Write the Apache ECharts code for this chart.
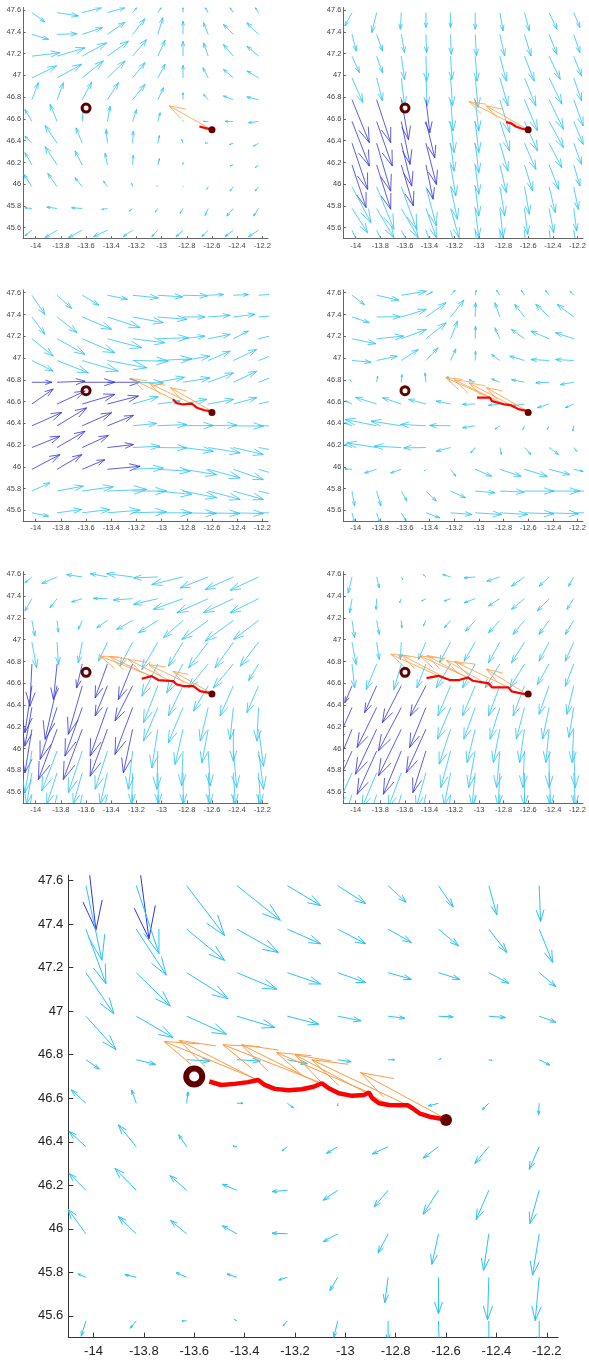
<!DOCTYPE html>
<html>
<head>
<meta charset="utf-8">
<title>wind field panels</title>
<script src="https://cdn.jsdelivr.net/npm/echarts@6/dist/echarts.min.js"></script>
<style>
  html, body { margin: 0; padding: 0; background: #fff; }
  #main { width: 589px; height: 1360px; }
</style>
</head>
<body>
<div id="main"></div>
<script>
// field grid (deg) and axis ticks
var LONS = [-14.03, -13.83, -13.63, -13.43, -13.23, -13.03, -12.83, -12.63, -12.43, -12.23];
var X_TICKS = [-14, -13.8, -13.6, -13.4, -13.2, -13, -12.8, -12.6, -12.4, -12.2];
var Y_TICKS = [45.6, 45.8, 46, 46.2, 46.4, 46.6, 46.8, 47, 47.2, 47.4, 47.6];
var RING = [-13.6, 46.7];
var END_POINT = [-12.6, 46.5];

// vector components, rows from north to south, [u, v] per column
var FIELD_1 = [
  [[39,-28],[64,-10],[58,15],[53,15],[12,15],[10,15],[0,15],[-9,15],[-10,15],[-10,15]],
  [[50,-15],[60,2],[60,20],[53,37],[37,47],[15,50],[0,40],[-14,35],[-30,30],[-35,35]],
  [[84,10],[84,25],[73,40],[63,45],[42,50],[22,48],[0,45],[-14,40],[-30,35],[-35,30]],
  [[74,36],[74,41],[63,51],[53,51],[37,46],[22,41],[0,38],[-16,31],[-30,26],[-35,21]],
  [[19,51],[19,51],[28,53],[33,51],[37,46],[17,36],[0,21],[-14,16],[-30,11],[-35,8]],
  [[-21,36],[-21,51],[3,46],[8,46],[12,36],[7,26],[0,3],[-14,0],[-25,0],[-30,-4]],
  [[-21,21],[-36,53],[-19,46],[-4,41],[2,36],[5,23],[-4,11],[-9,1],[-12,-4],[-15,-9]],
  [[-21,37],[-36,55],[-22,42],[-7,35],[2,29],[5,19],[0,7],[0,0],[-10,-3],[-10,-8]],
  [[-24,37],[-28,40],[-22,27],[-12,17],[-3,10],[-3,3],[0,2],[-4,-8],[-10,-13],[-10,-13]],
  [[-21,2],[-31,4],[-32,2],[-17,-3],[-10,-8],[-8,-11],[-9,-15],[-9,-21],[-20,-23],[-15,-23]],
  [[-21,-17],[-36,-22],[-42,-22],[-42,-19],[-28,-19],[-18,-19],[-21,-19],[-19,-19],[-25,-19],[-30,-19]]
];
var FIELD_2 = [
  [[-22,-40],[-15,-60],[-3,-50],[0,-45],[0,-45],[0,-50],[10,-55],[15,-55],[24,-50],[19,-45]],
  [[13,-50],[18,-50],[10,-55],[2,-55],[2,-60],[4,-65],[15,-65],[20,-65],[24,-60],[19,-55]],
  [[23,-50],[18,-50],[10,-70],[2,-75],[4,-70],[6,-75],[20,-75],[30,-75],[34,-70],[24,-60]],
  [[33,-74],[18,-69],[10,-84],[4,-84],[6,-84],[9,-89],[25,-84],[35,-84],[39,-79],[24,-69]],
  [[53,-129],[43,-129],[22,-120],[12,-99],[8,-94],[11,-94],[30,-99],[40,-94],[44,-89],[29,-79]],
  [[53,-134],[48,-134],[27,-129],[27,-109],[11,-94],[11,-94],[30,-89],[40,-89],[44,-79],[29,-69]],
  [[48,-139],[43,-144],[32,-129],[32,-124],[11,-84],[11,-89],[25,-84],[35,-79],[39,-74],[24,-64]],
  [[43,-128],[43,-133],[37,-123],[22,-103],[16,-93],[11,-88],[20,-83],[25,-78],[29,-73],[19,-63]],
  [[58,-108],[53,-128],[47,-128],[32,-118],[21,-98],[11,-88],[15,-88],[15,-83],[19,-78],[14,-68]],
  [[48,-73],[53,-88],[52,-88],[32,-88],[26,-88],[11,-88],[10,-88],[10,-78],[14,-73],[9,-68]],
  [[28,-60],[40,-80],[45,-80],[30,-80],[20,-80],[10,-80],[5,-80],[5,-70],[10,-70],[10,-60]]
];
var FIELD_3 = [
  [[39,-58],[44,-40],[50,-30],[60,-12],[77,-8],[75,-5],[74,-2],[46,2],[45,2],[45,3]],
  [[39,-52],[60,-47],[88,-37],[98,-32],[92,-17],[87,-7],[66,0],[66,5],[65,8],[60,5]],
  [[64,-52],[84,-47],[98,-42],[103,-27],[97,-12],[92,3],[66,8],[66,13],[45,23],[55,13]],
  [[64,-32],[94,-37],[108,-32],[118,-22],[107,-2],[102,5],[81,13],[66,28],[70,33],[65,25]],
  [[60,0],[84,3],[98,0],[98,0],[92,-2],[80,15],[81,13],[76,28],[70,33],[65,25]],
  [[64,45],[84,39],[98,29],[93,24],[77,22],[67,9],[71,14],[76,14],[70,19],[65,15]],
  [[90,40],[89,54],[88,39],[78,31],[72,7],[87,4],[91,1],[86,2],[90,-1],[85,0]],
  [[84,34],[84,49],[78,36],[78,9],[82,4],[87,-1],[91,-11],[96,-16],[90,-21],[85,-15]],
  [[84,44],[74,44],[68,29],[98,9],[92,4],[97,-6],[101,-16],[96,-26],[90,-31],[85,-25]],
  [[54,25],[79,15],[93,13],[118,5],[102,0],[102,-10],[101,-20],[96,-25],[90,-25],[85,-20]],
  [[50,-10],[74,10],[83,10],[98,8],[102,3],[102,0],[100,-2],[95,-2],[90,-2],[85,0]]
];
var FIELD_4 = [
  [[38,-28],[68,-15],[77,12],[20,10],[14,15],[3,15],[-10,15],[-10,15],[-11,15],[-11,12]],
  [[53,-17],[73,1],[77,23],[62,43],[41,51],[1,43],[-15,43],[-30,38],[-41,38],[-51,38]],
  [[73,-15],[83,8],[77,28],[62,48],[21,53],[1,38],[-15,33],[-40,28],[-56,23],[-56,18]],
  [[58,-5],[63,13],[52,33],[37,38],[16,35],[1,28],[-25,18],[-45,13],[-56,3],[-56,3]],
  [[-7,8],[3,18],[2,23],[-3,28],[-9,18],[-19,8],[-25,10],[-40,8],[-41,-2],[-41,-7]],
  [[-20,9],[-65,20],[-58,19],[-53,14],[-44,9],[-39,-1],[-35,-4],[-40,-6],[-36,-11],[-26,-11]],
  [[-22,9],[-97,19],[-93,14],[-78,4],[-64,1],[-39,-6],[-15,-10],[-5,-11],[-6,-11],[-3,-16]],
  [[-22,9],[-92,14],[-83,4],[-68,-1],[-44,-11],[-14,-16],[5,-21],[20,-21],[29,-21],[9,-11]],
  [[-22,1],[-37,-11],[-33,-11],[-5,-5],[16,-21],[51,-21],[65,-21],[70,-21],[64,-16],[29,-6]],
  [[8,-45],[13,-45],[17,-30],[32,-30],[46,-20],[61,-5],[75,-3],[90,0],[94,0],[60,0]],
  [[8,-30],[10,-30],[15,-25],[42,-15],[66,-5],[81,-5],[85,-5],[90,-3],[90,-3],[60,0]]
];
var FIELD_5 = [
  [[-21,-18],[-46,-20],[-47,7],[-52,10],[-78,10],[-73,-3],[-94,-23],[-84,-33],[-85,-38],[-85,-40]],
  [[-21,-37],[-21,-27],[-32,-10],[-42,1],[-58,-4],[-73,-17],[-89,-32],[-94,-42],[-90,-42],[-85,-42]],
  [[9,-47],[4,-35],[-12,-27],[-32,-22],[-48,-27],[-58,-37],[-59,-52],[-79,-57],[-85,-62],[-75,-57]],
  [[14,-77],[4,-67],[-12,-62],[-27,-57],[-38,-72],[-48,-82],[-44,-72],[-59,-77],[-55,-77],[-55,-72]],
  [[-6,-127],[-11,-107],[-17,-72],[-37,-102],[-43,-107],[-48,-97],[-49,-87],[-59,-72],[-60,-72],[-30,-50]],
  [[-21,-141],[-36,-161],[-42,-146],[-37,-91],[-53,-106],[-43,-111],[-44,-91],[-44,-76],[-40,-91],[-35,-81]],
  [[-21,-116],[-51,-156],[-52,-146],[-52,-146],[-53,-141],[-43,-101],[-44,-106],[-24,-101],[-10,-96],[-5,-101]],
  [[-21,-131],[-56,-151],[-57,-151],[-52,-141],[-28,-131],[-18,-116],[-24,-106],[-19,-101],[0,-96],[15,-111]],
  [[-21,-125],[-46,-120],[-42,-125],[-37,-115],[-13,-115],[-3,-115],[-4,-105],[6,-105],[10,-110],[15,-115]],
  [[-16,-95],[-31,-95],[-27,-95],[-22,-95],[-3,-95],[2,-95],[1,-95],[6,-95],[6,-95],[6,-95]],
  [[-15,-90],[-20,-90],[-20,-90],[-20,-90],[-5,-90],[0,-90],[0,-90],[0,-90],[0,-90],[0,-90]]
];
var FIELD_6 = [
  [[-12,-48],[8,-33],[5,-8],[-8,7],[-24,7],[-34,-3],[-40,-13],[-40,-28],[-31,-28],[-16,-28]],
  [[-7,-42],[-2,-32],[-5,-12],[-13,-7],[-19,-7],[-34,-12],[-35,-22],[-40,-32],[-36,-37],[-21,-32]],
  [[8,-52],[8,-42],[2,-22],[-8,-17],[-19,-22],[-29,-32],[-35,-37],[-35,-42],[-31,-42],[-26,-42]],
  [[13,-67],[8,-52],[-3,-52],[-23,-52],[-34,-62],[-34,-57],[-35,-62],[-40,-62],[-31,-57],[-26,-57]],
  [[8,-72],[-32,-77],[-23,-77],[-28,-72],[-44,-72],[-39,-72],[-45,-72],[-45,-72],[-36,-62],[-26,-67]],
  [[-22,-51],[-37,-81],[-58,-111],[-48,-91],[-39,-91],[-39,-91],[-35,-91],[-35,-91],[-31,-86],[-21,-86]],
  [[-50,-110],[-60,-120],[-70,-130],[-50,-120],[-40,-95],[-35,-95],[-30,-95],[-25,-95],[-20,-95],[-15,-90]],
  [[-55,-130],[-65,-135],[-70,-140],[-60,-130],[-35,-105],[-25,-100],[-20,-100],[-15,-100],[-10,-100],[-5,-100]],
  [[-55,-120],[-60,-130],[-55,-130],[-40,-125],[-30,-110],[-20,-110],[-10,-110],[-5,-110],[0,-110],[5,-110]],
  [[-45,-100],[-45,-105],[-40,-105],[-30,-105],[-20,-100],[-10,-100],[-5,-100],[0,-100],[5,-100],[5,-100]],
  [[-30,-90],[-30,-90],[-25,-90],[-20,-90],[-10,-90],[-5,-90],[0,-90],[0,-90],[0,-90],[0,-90]]
];
// big panel starts one row further north (47.78)
var FIELD_BIG = [
  [[15,-132],[19,-145],[0,0],[0,0],[0,0],[0,0],[0,0],[0,0],[0,0],[0,0]],
  [[24,-112],[34,-102],[57,-75],[65,-52],[50,-30],[42,-27],[27,-25],[22,-32],[12,-44],[2,-54]],
  [[30,-82],[45,-69],[57,-47],[62,-35],[50,-22],[42,-22],[35,-20],[30,-25],[27,-35],[20,-50]],
  [[42,-62],[51,-50],[62,-39],[60,-25],[50,-17],[42,-15],[35,-10],[32,-10],[30,-16],[25,-21]],
  [[45,-50],[55,-32],[60,-27],[57,-17],[47,-12],[35,-7],[25,-3],[22,-1],[25,-2],[25,-9]],
  [[20,-14],[29,-7],[35,-2],[35,-2],[30,-6],[20,-3],[10,0],[4,2],[5,-1],[16,-8]],
  [[-22,20],[-7,20],[2,17],[9,0],[9,-7],[0,-4],[-5,-2],[-15,-4],[-10,-10],[-1,-17]],
  [[-25,23],[-27,33],[-12,18],[-6,1],[-8,-6],[-17,-10],[-24,-11],[-23,-17],[-21,-25],[-15,-34]],
  [[-25,25],[-32,33],[-25,22],[-22,9],[-23,-2],[-22,-15],[-21,-25],[-23,-36],[-19,-44],[-14,-50]],
  [[-27,37],[-27,26],[-24,20],[-22,12],[-23,1],[-22,-12],[-15,-29],[-10,-46],[-8,-55],[-10,-62]],
  [[-12,5],[-17,4],[-16,7],[-15,5],[-13,-4],[-12,-20],[-5,-38],[0,-55],[-2,-64],[-6,-65]],
  [[-7,-23],[-9,-11],[-7,0],[-4,2],[-6,-7],[-6,-25],[0,-30],[1,-35],[0,-35],[0,-35]]
];

// cells drawn in dark blue: [rowFrom, rowTo, colFrom, colTo]
var BLUE_2 = [4, 7, 0, 3];
var BLUE_3 = [4, 8, 0, 3];
var BLUE_5 = [4, 7, 0, 4];
var BLUE_6 = [5, 8, 0, 3];
var BLUE_BIG = [0, 0, 0, 1];

// drifter tracks [lon, lat]
var TRACK_1 = [[-12.70,46.53],[-12.65,46.515],[-12.6,46.5]];
var TRACK_2 = [[-12.78,46.57],[-12.74,46.56],[-12.70,46.53],[-12.65,46.51],[-12.6,46.5]];
var TRACK_3 = [[-12.91,46.62],[-12.88,46.585],[-12.83,46.573],[-12.76,46.58],[-12.72,46.543],[-12.66,46.52],[-12.60,46.51]];
var TRACK_4 = [[-13.015,46.635],[-12.91,46.635],[-12.894,46.604],[-12.79,46.573],[-12.735,46.564],[-12.68,46.53],[-12.604,46.512]];
var TRACK_5 = [[-13.158,46.641],[-13.079,46.665],[-13.026,46.629],[-12.907,46.62],[-12.88,46.589],[-12.828,46.574],[-12.748,46.574],[-12.695,46.527],[-12.602,46.506]];
var TRACK_6 = [[-13.425,46.647],[-13.33,46.668],[-13.237,46.629],[-13.16,46.629],[-13.09,46.653],[-13.05,46.623],[-12.92,46.598],[-12.894,46.562],[-12.76,46.562],[-12.735,46.525],[-12.604,46.494]];
var TRACK_BIG = [[-13.54,46.677],[-13.493,46.661],[-13.44,46.666],[-13.386,46.674],[-13.346,46.684],[-13.32,46.661],[-13.28,46.643],[-13.226,46.637],[-13.173,46.641],[-13.126,46.653],[-13.093,46.669],[-13.066,46.646],[-13.026,46.623],[-12.973,46.611],[-12.926,46.615],[-12.906,46.626],[-12.893,46.6],[-12.866,46.577],[-12.826,46.569],[-12.786,46.568],[-12.753,46.568],[-12.733,46.554],[-12.706,46.531],[-12.666,46.515],[-12.62,46.506],[-12.6,46.505]];

// wind arrows along the track [tailLon, tailLat, tipLon, tipLat]
var WIND_1 = [[-12.6,46.5,-12.94,46.72]];
var WIND_2 = [[-12.72,46.55,-13.08,46.76],[-12.6,46.5,-12.94,46.72]];
var WIND_3 = [[-12.907,46.62,-13.24,46.81],[-12.76,46.58,-13.1,46.77],[-12.6,46.51,-12.93,46.727]];
var WIND_4 = [[-12.91,46.635,-13.27,46.82],[-12.79,46.573,-13.2,46.8],[-12.735,46.564,-13.08,46.77],[-12.604,46.512,-12.94,46.727]];
var WIND_5 = [[-13.079,46.665,-13.49,46.85],[-13.026,46.629,-13.41,46.845],[-12.88,46.589,-13.265,46.82],[-12.748,46.574,-13.1,46.77],[-12.602,46.506,-12.91,46.71]];
var WIND_6 = [[-13.33,46.668,-13.716,46.867],[-13.237,46.629,-13.63,46.86],[-13.09,46.653,-13.478,46.85],[-13.05,46.623,-13.42,46.855],[-12.894,46.562,-13.265,46.81],[-12.76,46.562,-13.2,46.8],[-12.604,46.494,-12.94,46.73]];
var WIND_BIG = [[-13.346,46.684,-13.72,46.861],[-13.28,46.643,-13.66,46.866],[-13.093,46.669,-13.486,46.846],[-13.026,46.623,-13.413,46.846],[-12.906,46.626,-13.273,46.81],[-12.826,46.569,-13.2,46.8],[-12.753,46.568,-13.133,46.777],[-12.6,46.505,-12.94,46.718]];

var X_MIN = -14.1, X_MAX = -12.155, Y_MIN = 45.5, Y_MAX = 47.625;
// vector units -> degrees (grid step 0.2 deg = 75.5 units in x, 65.3 in y)
var SX = 0.2 / 75.5, SY = 0.2 / 65.3;

var panels = [
  {field: FIELD_1, lat0: 47.577, blue: null,     track: TRACK_1, wind: WIND_1, left: 23.1,  top: 7.4},
  {field: FIELD_2, lat0: 47.577, blue: BLUE_2,   track: TRACK_2, wind: WIND_2, left: 343.4, top: 7.4},
  {field: FIELD_3, lat0: 47.577, blue: BLUE_3,   track: TRACK_3, wind: WIND_3, left: 23.1,  top: 290},
  {field: FIELD_4, lat0: 47.577, blue: null,     track: TRACK_4, wind: WIND_4, left: 343.4, top: 290},
  {field: FIELD_5, lat0: 47.577, blue: BLUE_5,   track: TRACK_5, wind: WIND_5, left: 23.1,  top: 571.7},
  {field: FIELD_6, lat0: 47.577, blue: BLUE_6,   track: TRACK_6, wind: WIND_6, left: 343.4, top: 571.7},
  {field: FIELD_BIG, lat0: 47.777, blue: BLUE_BIG, track: TRACK_BIG, wind: WIND_BIG, left: 68.3, top: 875.2, big: true}
];

function headPoints(p0, p1) {
  // matlab quiver style head: alpha 0.33, beta 0.33
  var dx = p1[0] - p0[0], dy = p1[1] - p0[1];
  var a = 0.33, b = 0.33;
  return [
    [p1[0] - a * (dx + b * dy), p1[1] - a * (dy - b * dx)],
    p1,
    [p1[0] - a * (dx - b * dy), p1[1] - a * (dy + b * dx)]
  ];
}

function arrowShape(p0, p1, color, lw) {
  return {
    type: 'group',
    children: [
      {type: 'polyline', shape: {points: [p0, p1]}, style: {stroke: color, lineWidth: lw, fill: null}},
      {type: 'polyline', shape: {points: headPoints(p0, p1)}, style: {stroke: color, lineWidth: lw, fill: null}}
    ]
  };
}

var grids = [], xAxes = [], yAxes = [], series = [];

panels.forEach(function (p, i) {
  var scale = p.big ? 2 : 1;
  grids.push({left: p.left, top: p.top, width: 244.9 * scale, height: 231.2 * scale});
  var axisColor = p.big ? '#333' : '#666';
  var labelStyle = {
    fontSize: p.big ? 13 : 7.5,
    fontFamily: 'Liberation Sans, Arial, sans-serif',
    color: p.big ? '#222' : '#444'
  };
  xAxes.push({
    gridIndex: i, type: 'value', min: X_MIN, max: X_MAX,
    axisLine: {show: true, onZero: false, lineStyle: {color: axisColor, width: 1}},
    axisTick: {show: true, inside: true, length: p.big ? 5 : 2.5, customValues: X_TICKS, lineStyle: {color: axisColor}},
    axisLabel: Object.assign({customValues: X_TICKS, margin: p.big ? 7 : 3,
      formatter: function (v) { return String(+v.toFixed(1)); }}, labelStyle),
    splitLine: {show: false}
  });
  yAxes.push({
    gridIndex: i, type: 'value', min: Y_MIN, max: Y_MAX,
    axisLine: {show: true, onZero: false, lineStyle: {color: axisColor, width: 1}},
    axisTick: {show: true, inside: true, length: p.big ? 5 : 2.5, customValues: Y_TICKS, lineStyle: {color: axisColor}},
    axisLabel: Object.assign({customValues: Y_TICKS, margin: p.big ? 5 : 2,
      formatter: function (v) { return String(+v.toFixed(1)); }}, labelStyle),
    splitLine: {show: false}
  });

  // vector field items: [lon, lat, u, v, blue]
  var items = [];
  p.field.forEach(function (row, r) {
    row.forEach(function (uv, c) {
      var isBlue = p.blue && r >= p.blue[0] && r <= p.blue[1] && c >= p.blue[2] && c <= p.blue[3] ? 1 : 0;
      items.push([LONS[c], +(p.lat0 - 0.2 * r).toFixed(3), uv[0], uv[1], isBlue]);
    });
  });

  var lw = p.big ? 1 : 0.8;
  series.push({
    type: 'custom', xAxisIndex: i, yAxisIndex: i, clip: true, z: 2,
    encode: {x: 0, y: 1},
    data: items,
    renderItem: function (params, api) {
      var x = api.value(0), y = api.value(1), u = api.value(2), v = api.value(3);
      if (u === 0 && v === 0) return null;
      var p0 = api.coord([x, y]);
      var p1 = api.coord([x + u * SX, y + v * SY]);
      return arrowShape(p0, p1, api.value(4) ? '#3434d8' : '#2cc3f4', lw);
    }
  });

  series.push({
    type: 'custom', xAxisIndex: i, yAxisIndex: i, clip: true, z: 3,
    encode: {x: [0, 2], y: [1, 3]},
    data: p.wind,
    renderItem: function (params, api) {
      var p0 = api.coord([api.value(0), api.value(1)]);
      var p1 = api.coord([api.value(2), api.value(3)]);
      return arrowShape(p0, p1, '#ff9a40', p.big ? 1 : 0.8);
    }
  });

  series.push({
    type: 'line', xAxisIndex: i, yAxisIndex: i, z: 4,
    data: p.track, showSymbol: false, symbol: 'none',
    lineStyle: {color: '#ff0000', width: p.big ? 4.5 : 2.2}
  });

  series.push({
    type: 'scatter', xAxisIndex: i, yAxisIndex: i, z: 5,
    data: [RING], symbol: 'circle', symbolSize: p.big ? 16 : 8,
    itemStyle: {color: 'rgba(0,0,0,0)', borderColor: '#5e0000', borderWidth: p.big ? 6 : 3, opacity: 1}
  });

  series.push({
    type: 'scatter', xAxisIndex: i, yAxisIndex: i, z: 5,
    data: [END_POINT], symbol: 'circle', symbolSize: p.big ? 12 : 7,
    itemStyle: {color: '#660000', opacity: 1}
  });
});

var chart = echarts.init(document.getElementById('main'));
chart.setOption({
  animation: false,
  backgroundColor: '#fff',
  grid: grids,
  xAxis: xAxes,
  yAxis: yAxes,
  series: series
});
</script>
</body>
</html>
